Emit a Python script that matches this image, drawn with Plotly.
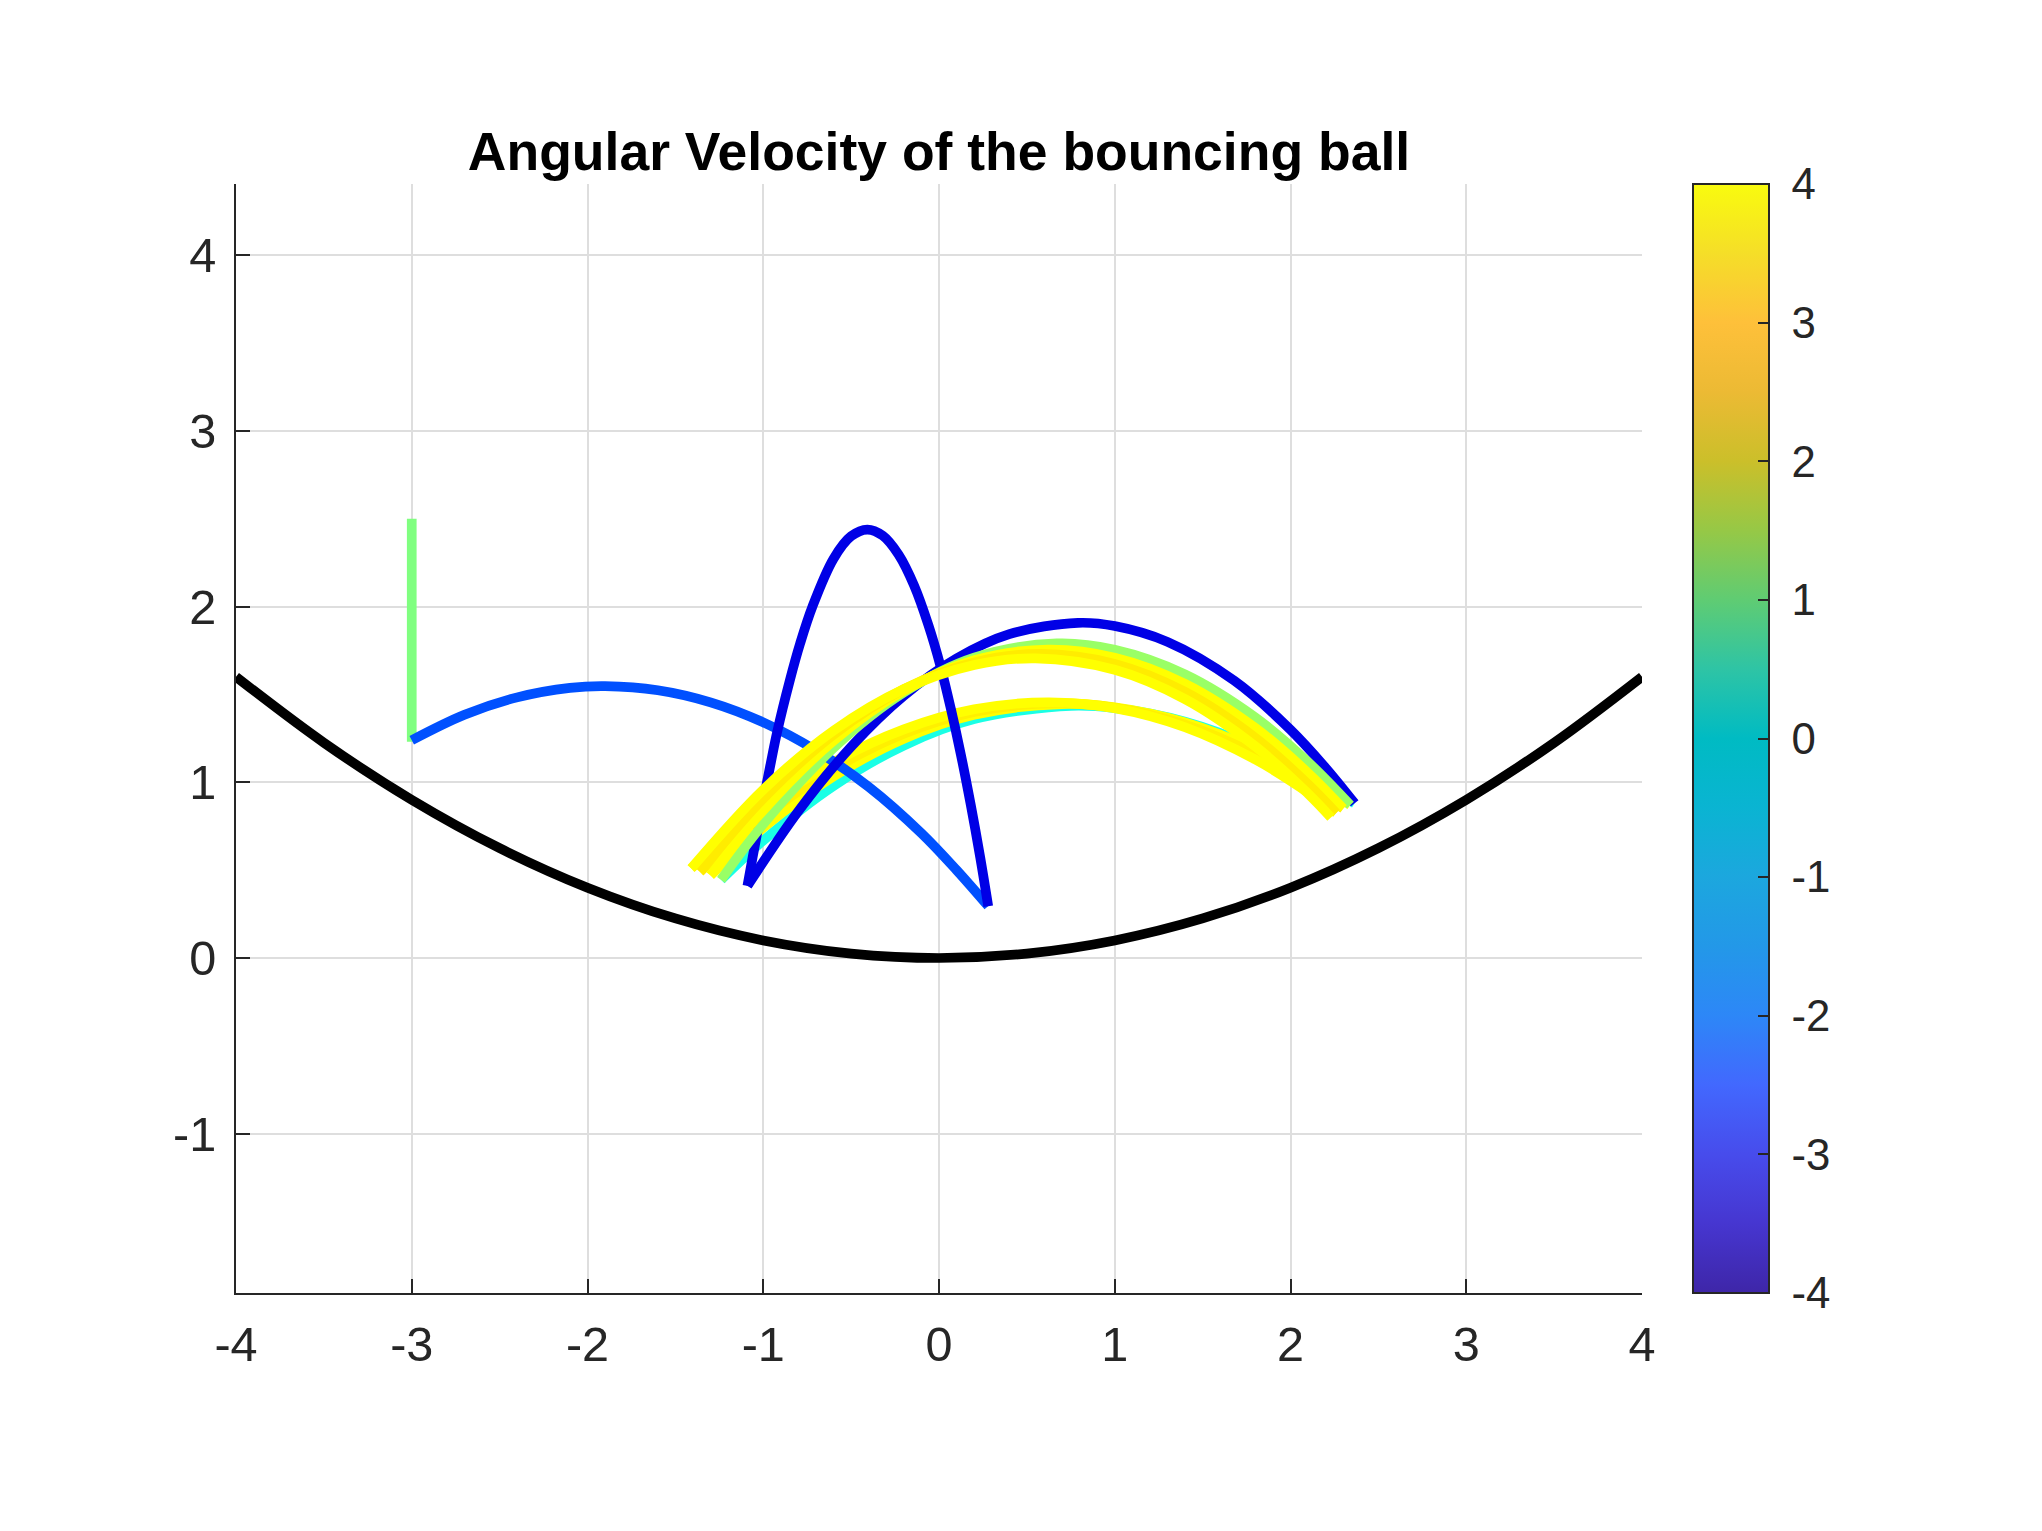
import plotly.graph_objects as go
from plotly.colors import sample_colorscale

# ---- data ----
title_text = "Angular Velocity of the bouncing ball"

x_ticks = [-4, -3, -2, -1, 0, 1, 2, 3, 4]
x_ticktext = ["-4", "-3", "-2", "-1", "0", "1", "2", "3", "4"]
y_ticks = [-1, 0, 1, 2, 3, 4]
y_ticktext = ["-1", "0", "1", "2", "3", "4"]
cb_ticks = [-4, -3, -2, -1, 0, 1, 2, 3, 4]
cb_ticktext = ["-4", "-3", "-2", "-1", "0", "1", "2", "3", "4"]

# bowl surface
bowl_x = [-4, -3.5, -3, -2.5, -2, -1.5, -1, -0.5, 0, 0.5, 1, 1.5, 2, 2.5, 3, 3.5, 4]
bowl_y = [1.6, 1.225, 0.9, 0.625, 0.4, 0.225, 0.1, 0.025, 0, 0.025, 0.1, 0.225, 0.4, 0.625, 0.9, 1.225, 1.6]

# ball centre, one flight per list pair
drop_x = [-3.0, -3.0]
drop_y = [2.5, 1.23]

hop1_x = [-3.0, -2.7, -2.4, -2.1, -1.9, -1.6, -1.3, -1.0, -0.7, -0.4, -0.1, 0.1, 0.28]
hop1_y = [1.239, 1.384, 1.483, 1.537, 1.547, 1.524, 1.455, 1.341, 1.181, 0.974, 0.71, 0.50, 0.295]

hop2_x = [0.28, 0.235, 0.18, 0.124, 0.067, 0.01, -0.06, -0.142, -0.23, -0.32, -0.408,
          -0.50, -0.60, -0.72, -0.79, -0.85, -0.92, -0.96, -1.015, -1.06, -1.09]
hop2_y = [0.295, 0.57, 0.875, 1.16, 1.42, 1.655, 1.893, 2.12, 2.295, 2.403, 2.438,
          2.40, 2.272, 2.00, 1.79, 1.575, 1.29, 1.095, 0.815, 0.575, 0.41]

hop3_x = [-1.09, -0.8, -0.5, -0.2, 0.1, 0.4, 0.79, 1.0, 1.3, 1.68, 2.0, 2.2, 2.365]
hop3_y = [0.41, 0.836, 1.202, 1.492, 1.705, 1.843, 1.907, 1.889, 1.799, 1.578, 1.299, 1.082, 0.88]

# low flights (right to left)
low1_x = [-1.24, -1.0, -0.6, -0.2, 0.2, 0.75, 1.0, 1.4, 1.8, 2.1, 2.365]
low1_y = [0.445, 0.669, 0.979, 1.209, 1.359, 1.435, 1.422, 1.345, 1.200, 1.047, 0.88]
low2_x = [-1.30, -1.0, -0.6, -0.2, 0.2, 0.70, 1.0, 1.4, 1.8, 2.1, 2.34]
low2_y = [0.47, 0.741, 1.033, 1.248, 1.384, 1.445, 1.426, 1.340, 1.186, 1.026, 0.87]
low3_x = [-1.36, -1.0, -0.6, -0.2, 0.2, 0.66, 1.0, 1.4, 1.8, 2.1, 2.30]
low3_y = [0.49, 0.802, 1.076, 1.276, 1.400, 1.45, 1.424, 1.328, 1.160, 0.987, 0.85]
low4_x = [-1.41, -1.0, -0.6, -0.2, 0.2, 0.62, 1.0, 1.4, 1.8, 2.1, 2.26]
low4_y = [0.51, 0.853, 1.114, 1.301, 1.415, 1.455, 1.421, 1.313, 1.129, 0.942, 0.825]

# high flights (left to right)
high1_x = [-1.24, -1.0, -0.6, -0.2, 0.2, 0.67, 1.0, 1.4, 1.8, 2.1, 2.34]
high1_y = [0.445, 0.762, 1.195, 1.511, 1.709, 1.79, 1.754, 1.614, 1.369, 1.115, 0.87]
high2_x = [-1.30, -1.0, -0.6, -0.2, 0.2, 0.62, 1.0, 1.4, 1.8, 2.1, 2.30]
high2_y = [0.47, 0.840, 1.236, 1.521, 1.694, 1.755, 1.709, 1.560, 1.309, 1.053, 0.85]
high3_x = [-1.36, -1.0, -0.6, -0.2, 0.2, 0.58, 1.0, 1.4, 1.8, 2.1, 2.26]
high3_y = [0.49, 0.907, 1.271, 1.530, 1.682, 1.73, 1.673, 1.514, 1.253, 0.989, 0.825]
high4_x = [-1.41, -1.0, -0.6, -0.2, 0.2, 0.55, 1.0, 1.4, 1.8, 2.1, 2.23]
high4_y = [0.51, 0.958, 1.294, 1.530, 1.667, 1.705, 1.640, 1.473, 1.204, 0.935, 0.80]

# angular velocity of each flight
omega = {
    "drop": 0.0, "hop1": -2.37, "hop2": -3.2, "hop3": -3.2,
    "low1": -0.8, "low2": 1.0, "low3": 1.12, "low4": 1.0,
    "high1": 0.2, "high2": 1.0, "high3": 1.15, "high4": 1.0,
}
w_min, w_max = -4, 4

# ---- colour scales ----
JET = [[0.0, "rgb(0,0,128)"], [0.125, "rgb(0,0,255)"], [0.375, "rgb(0,255,255)"],
       [0.625, "rgb(255,255,0)"], [0.875, "rgb(255,0,0)"], [1.0, "rgb(128,0,0)"]]
PARULA = [[0.0, "rgb(62,38,168)"], [0.0625, "rgb(70,54,208)"], [0.125, "rgb(71,76,236)"],
          [0.1875, "rgb(66,104,254)"], [0.25, "rgb(45,135,247)"], [0.3125, "rgb(35,152,232)"],
          [0.375, "rgb(28,167,222)"], [0.4375, "rgb(10,180,210)"], [0.5, "rgb(0,187,195)"],
          [0.5625, "rgb(46,196,165)"], [0.625, "rgb(95,204,115)"], [0.6875, "rgb(150,200,70)"],
          [0.75, "rgb(203,191,42)"], [0.8125, "rgb(236,186,52)"], [0.875, "rgb(254,192,58)"],
          [0.9375, "rgb(245,222,40)"], [1.0, "rgb(249,251,14)"]]


def jet_colour(w):
    return sample_colorscale(JET, [(w - w_min) / (w_max - w_min)])[0]


# page body adds 8px on each side, so the figure is drawn 16px smaller
W, H = 2026, 1515
L, T = 228, 176
PW, PH = 1406, 1109
R, B = W - L - PW, H - T - PH
AX = "#262626"
FONT = "Arial, Liberation Sans, Helvetica, sans-serif"
LW = 9.7

fig = go.Figure()

fig.add_trace(go.Scatter(x=bowl_x, y=bowl_y, mode="lines",
                         line=dict(color="black", width=LW, shape="spline"),
                         hoverinfo="skip"))

flights = [
    ("low1", low1_x, low1_y), ("low2", low2_x, low2_y),
    ("low3", low3_x, low3_y), ("low4", low4_x, low4_y),
    ("drop", drop_x, drop_y), ("hop1", hop1_x, hop1_y),
    ("hop2", hop2_x, hop2_y), ("hop3", hop3_x, hop3_y),
    ("high1", high1_x, high1_y), ("high2", high2_x, high2_y),
    ("high3", high3_x, high3_y), ("high4", high4_x, high4_y),
]
for name, xs, ys in flights:
    fig.add_trace(go.Scatter(x=xs, y=ys, mode="lines", name=name,
                             line=dict(color=jet_colour(omega[name]), width=LW, shape="spline"),
                             hoverinfo="skip"))

# colour bar only
fig.add_trace(go.Scatter(
    x=[None], y=[None], mode="markers", hoverinfo="skip",
    marker=dict(color=[0], colorscale=PARULA, cmin=w_min, cmax=w_max, showscale=True,
                colorbar=dict(x=(1685 - L) / PW, xanchor="left", xpad=0, ypad=0,
                              y=0.5, yanchor="middle", len=1, lenmode="fraction",
                              thickness=76, outlinewidth=2, outlinecolor=AX,
                              ticks="inside", ticklen=12, tickwidth=2, tickcolor=AX,
                              tickvals=cb_ticks,
                              ticktext=["\u00a0" + t for t in cb_ticktext],
                              tickfont=dict(family=FONT, size=43.75, color=AX)))))

axis_common = dict(showgrid=True, gridcolor="#dedede", gridwidth=2, zeroline=False,
                   showline=True, linecolor=AX, linewidth=2, ticks="inside", ticklen=14,
                   tickwidth=2, tickcolor=AX, tickfont=dict(family=FONT, size=48.6, color=AX),
                   ticklabelstandoff=8, automargin=False)

fig.update_layout(
    width=W, height=H,
    margin=dict(l=L, r=R, t=T, b=B, pad=0),
    paper_bgcolor="white", plot_bgcolor="white",
    showlegend=False,
    title=dict(text="<b>" + title_text + "</b>", x=0.5, xref="paper", xanchor="center",
               y=1 - 143 / H, yref="container", yanchor="middle",
               font=dict(family=FONT, size=53.5, color="black")),
    xaxis=dict(range=[-4, 4], tickvals=x_ticks, ticktext=x_ticktext, **axis_common),
    yaxis=dict(range=[-1.906, 4.404], tickvals=y_ticks, ticktext=y_ticktext, **axis_common),
)

fig.write_html("out.html")
